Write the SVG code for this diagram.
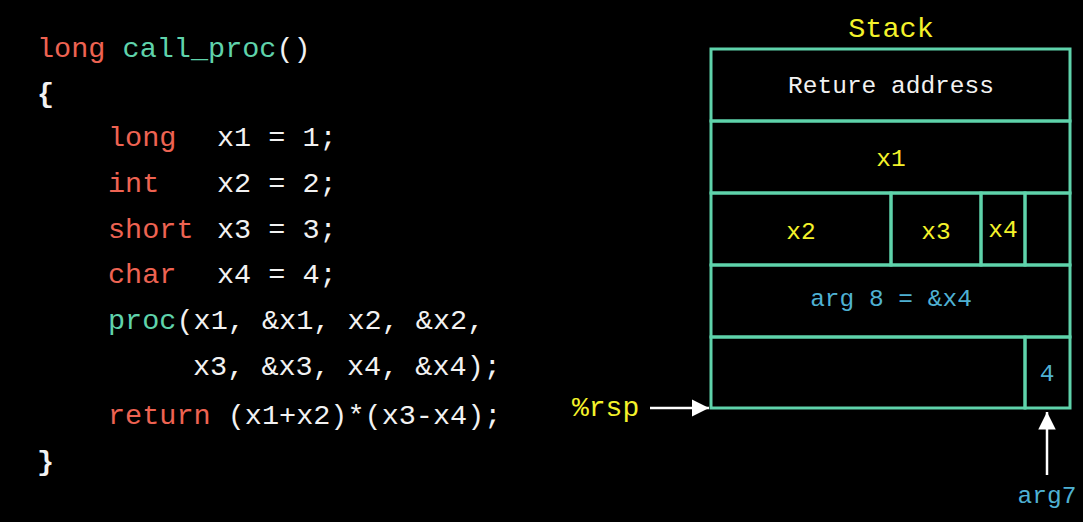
<svg xmlns="http://www.w3.org/2000/svg" width="1083" height="522" viewBox="0 0 1083 522">
<defs>
<style>
text{font-family:"Liberation Mono","DejaVu Sans Mono",monospace;}
.code{font-size:28.5px;fill:#f2f2f2;}
.kw{fill:#ee6352;}
.fn{fill:#5fd3ab;}
.yl{fill:#f4f22a;}
.bl{fill:#4fb1d3;}
.cell{fill:none;stroke:#5fd3ab;stroke-width:3;}
.lbl{font-size:24.5px;text-anchor:middle;}
.arrow{stroke:#ffffff;stroke-width:2.5;fill:none;}
</style>
<marker id="ah" viewBox="0 0 10 10" refX="10" refY="5" markerWidth="7" markerHeight="7" markerUnits="strokeWidth" orient="auto">
<path d="M0,0 L10,5 L0,10 z" fill="#ffffff"/>
</marker>
</defs>
<rect width="1083" height="522" fill="#000000"/>
<g id="code">
<text class="code" x="37" y="57"><tspan class="kw">long</tspan> <tspan class="fn">call_proc</tspan>()</text>
<text class="code" x="37" y="102" font-weight="bold">{</text>
<text class="code kw" x="108" y="146">long</text>
<text class="code" x="217" y="146">x1 = 1;</text>
<text class="code kw" x="108" y="192">int</text>
<text class="code" x="217" y="192">x2 = 2;</text>
<text class="code kw" x="108" y="238">short</text>
<text class="code" x="217" y="238">x3 = 3;</text>
<text class="code kw" x="108" y="283">char</text>
<text class="code" x="217" y="283">x4 = 4;</text>
<text class="code" x="108" y="329"><tspan class="fn">proc</tspan>(x1, &amp;x1, x2, &amp;x2,</text>
<text class="code" x="193" y="375">x3, &amp;x3, x4, &amp;x4);</text>
<text class="code" x="108" y="424"><tspan class="kw">return</tspan> (x1+x2)*(x3-x4);</text>
<text class="code" x="37" y="470" font-weight="bold">}</text>
</g>
<g id="stack-title">
<text class="yl" x="891" y="37" font-size="28.5" text-anchor="middle">Stack</text>
</g>
<g id="return-address">
<rect class="cell" x="711" y="49" width="359" height="72"/>
<text class="lbl" x="891" y="93" fill="#f2f2f2">Reture address</text>
</g>
<g id="x1">
<rect class="cell" x="711" y="121" width="359" height="72"/>
<text class="lbl yl" x="891" y="166" font-size="28.5">x1</text>
</g>
<g id="x2">
<rect class="cell" x="711" y="193" width="180" height="72"/>
<text class="lbl yl" x="801" y="239" font-size="28.5">x2</text>
</g>
<g id="x3">
<rect class="cell" x="891" y="193" width="90" height="72"/>
<text class="lbl yl" x="936" y="239" font-size="28.5">x3</text>
</g>
<g id="x4">
<rect class="cell" x="981" y="193" width="44" height="72"/>
<text class="lbl yl" x="1003" y="237" font-size="22.5">x4</text>
</g>
<g id="pad">
<rect class="cell" x="1025" y="193" width="45" height="72"/>
</g>
<g id="arg8">
<rect class="cell" x="711" y="265" width="359" height="72"/>
<text class="lbl bl" x="891" y="306">arg 8 = &amp;x4</text>
</g>
<g id="bottom">
<rect class="cell" x="711" y="337" width="314" height="71"/>
</g>
<g id="arg7-cell">
<rect class="cell" x="1025" y="337" width="45" height="71"/>
<text class="lbl bl" x="1047" y="381">4</text>
</g>
<g id="rsp">
<text class="yl" x="572" y="416" font-size="28">%rsp</text>
</g>
<g id="arg7">
<text class="lbl bl" x="1047" y="503">arg7</text>
</g>
<g id="connectors">
<line class="arrow" x1="650" y1="408" x2="709" y2="408" marker-end="url(#ah)"/>
<line class="arrow" x1="1047" y1="475" x2="1047" y2="412" marker-end="url(#ah)"/>
</g>
</svg>
